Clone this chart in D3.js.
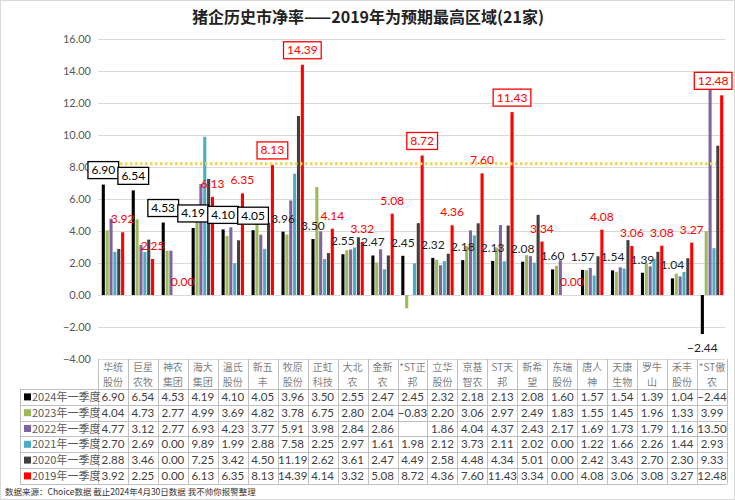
<!DOCTYPE html>
<html>
<head>
<meta charset="utf-8">
<script src="https://cdn.jsdelivr.net/npm/d3@7/dist/d3.min.js"></script>
<style>
  body { margin: 0; background: #fff; }
  svg { display: block; }
  .num { font-family: "Lato", "Liberation Sans", sans-serif; }
  .cjk { font-family: "Noto Sans CJK SC", sans-serif; }
</style>
</head>
<body>
<script>
// company list, one column per company
var companies = ["华统股份", "巨星农牧", "神农集团", "海大集团", "温氏股份", "新五丰", "牧原股份",
  "正虹科技", "大北农", "金新农", "*ST正邦", "立华股份", "京基智农", "ST天邦", "新希望",
  "东瑞股份", "唐人神", "天康生物", "罗牛山", "禾丰股份", "*ST傲农"];

// series names (legend / table rows)
var seriesNames = ["2024年一季度", "2023年一季度", "2022年一季度", "2021年一季度", "2020年一季度", "2019年一季度"];

// price-to-book per series
var pb2024 = [6.90, 6.54, 4.53, 4.19, 4.10, 4.05, 3.96, 3.50, 2.55, 2.47, 2.45, 2.32, 2.18, 2.13, 2.08, 1.60, 1.57, 1.54, 1.39, 1.04, -2.44];
var pb2023 = [4.04, 4.73, 2.77, 4.99, 3.69, 4.82, 3.78, 6.75, 2.80, 2.04, -0.83, 2.20, 3.06, 2.97, 2.49, 1.83, 1.55, 1.45, 1.96, 1.33, 3.99];
var pb2022 = [4.77, 3.12, 2.77, 6.93, 4.23, 3.77, 5.91, 3.98, 2.84, 2.86, null, 1.86, 4.04, 4.37, 2.43, 2.17, 1.69, 1.73, 1.79, 1.16, 13.50];
var pb2021 = [2.70, 2.69, 0.00, 9.89, 1.99, 2.88, 7.58, 2.25, 2.97, 1.61, 1.98, 2.12, 3.73, 2.11, 2.02, 0.00, 1.22, 1.66, 2.26, 1.44, 2.93];
var pb2020 = [2.88, 3.46, 0.00, 7.25, 3.42, 4.50, 11.19, 2.62, 3.61, 2.47, 4.49, 2.58, 4.48, 4.34, 5.01, 0.00, 2.42, 3.43, 2.70, 2.30, 9.33];
var pb2019 = [3.92, 2.25, 0.00, 6.13, 6.35, 8.13, 14.39, 4.14, 3.32, 5.08, 8.72, 4.36, 7.60, 11.43, 3.34, 0.00, 4.08, 3.06, 3.08, 3.27, 12.48];

var yTicks = [-4, -2, 0, 2, 4, 6, 8, 10, 12, 14, 16];
var refLevel = 8.2; // the yellow dotted "high zone" line

// labels drawn inside a frame
var boxed2024 = ["华统股份", "巨星农牧", "神农集团", "海大集团", "温氏股份", "新五丰"];
var boxed2019 = ["新五丰", "牧原股份", "*ST正邦", "ST天邦", "*ST傲农"];

window.onload = function(){

	var w = 735, h = 500;
	var colors = ["#000000", "#9bbb59", "#8064a2", "#4bacc6", "#404040", "#ff0000"];
	var series = [pb2024, pb2023, pb2022, pb2021, pb2020, pb2019];

	var svg = d3.select("body").append("svg")
		.attr("width", w)
		.attr("height", h);

	svg.append("rect")
		.attr("x", 0.5).attr("y", 0.5)
		.attr("width", w - 1).attr("height", h - 1)
		.style("fill", "#fff")
		.style("stroke", "#d9d9d9");

	// title
	svg.append("text")
		.attr("class", "cjk")
		.attr("x", 368)
		.attr("y", 23)
		.attr("text-anchor", "middle")
		.style("font-size", "16px")
		.style("font-weight", "bold")
		.style("fill", "#222")
		.text("猪企历史市净率——2019年为预期最高区域(21家)");

	var left = 98, right = 727;

	var y = d3.scaleLinear()
		.domain([-4, 16])
		.range([359, 39]);

	var x0 = d3.scaleBand()
		.domain(companies)
		.range([left, right])
		.paddingInner(0.2)
		.paddingOuter(0.1);

	var x1 = d3.scaleBand()
		.domain(d3.range(series.length))
		.range([0, x0.bandwidth()])
		.padding(0.2);

	// gridlines
	svg.selectAll(".grid")
		.data(yTicks)
		.enter()
		.append("line")
		.attr("x1", left).attr("x2", right - 2)
		.attr("y1", function(d){ return Math.round(y(d)) + 0.5; })
		.attr("y2", function(d){ return Math.round(y(d)) + 0.5; })
		.style("stroke", "#d9d9d9");

	// y axis labels
	var yAxis = d3.axisLeft(y)
		.tickValues(yTicks)
		.tickSize(0)
		.tickPadding(6)
		.tickFormat(d3.format(".2f"));

	var axis = svg.append("g")
		.attr("transform", "translate(" + (left - 1) + ",0)")
		.call(yAxis);
	axis.select(".domain").remove();
	axis.selectAll("text")
		.attr("class", "num")
		.style("font-size", "11px")
		.style("fill", "#595959");

	// bars
	var groups = svg.selectAll(".grp")
		.data(companies)
		.enter()
		.append("g")
		.attr("transform", function(d){ return "translate(" + x0(d) + ",0)"; });

	groups.selectAll("rect")
		.data(function(d, i){
			return series.map(function(s, k){ return {k: k, v: s[i]}; })
				.filter(function(e){ return e.v !== null; });
		})
		.enter()
		.append("rect")
		.attr("x", function(d){ return x1(d.k); })
		.attr("width", x1.bandwidth())
		.attr("y", function(d){ return y(Math.max(0, d.v)); })
		.attr("height", function(d){ return Math.abs(y(d.v) - y(0)); })
		.style("fill", function(d){ return colors[d.k]; });

	// yellow dotted reference line
	svg.append("line")
		.attr("x1", 90).attr("x2", 716)
		.attr("y1", y(refLevel)).attr("y2", y(refLevel))
		.style("stroke", "#f2d34a")
		.style("stroke-width", 3)
		.style("stroke-dasharray", "2.5,2.5");

	// value labels for 2024 (k=0) and 2019 (k=5)
	function addLabels(values, k, boxedList, color){
		values.forEach(function(v, i){
			var name = companies[i];
			var cx = x0(name) + x1(k) + x1.bandwidth() / 2;
			var txt = d3.format(".2f")(v);
			if (boxedList.indexOf(name) >= 0) {
				var g = svg.append("g");
				var bottom = y(v) - 6;
				var r = g.append("rect");
				var t = g.append("text")
					.attr("class", "num")
					.attr("y", bottom - 4.5)
					.attr("text-anchor", "middle")
					.style("font-size", "12px")
					.style("fill", color)
					.text(txt);
				var tw = t.node().getComputedTextLength();
				var bw = tw + 7;
				var bx = Math.min(cx - bw / 2, w - 3 - bw);
				t.attr("x", bx + bw / 2);
				r.attr("x", bx)
					.attr("y", bottom - 17)
					.attr("width", bw)
					.attr("height", 17)
					.style("fill", "#fff")
					.style("stroke", color)
					.style("stroke-width", 1.3);
			} else {
				var ly = v < 0 ? y(v) + 18 : y(Math.max(0, v)) - 9;
				svg.append("text")
					.attr("class", "num")
					.attr("x", cx)
					.attr("y", ly)
					.attr("text-anchor", "middle")
					.style("font-size", "12px")
					.style("fill", color === "#000000" ? "#222" : color)
					.text(txt);
			}
		});
	}
	addLabels(pb2024, 0, boxed2024, "#000000");
	addLabels(pb2019, 5, boxed2019, "#ff0000");

	// data table
	var headTop = 359, rowTop = 389, rowH = 15.8, legLeft = 20;
	var colW = (right - left) / companies.length;
	var lineCol = "#bfbfbf";

	function header(name){
		if (name.indexOf("ST") >= 0) return [name.slice(0, -1), name.slice(-1)];
		return [name.slice(0, 2), name.slice(2)];
	}

	// header cells, two lines each
	companies.forEach(function(name, i){
		var cx = left + colW * (i + 0.5);
		header(name).forEach(function(s, j){
			svg.append("text")
				.attr("class", "cjk")
				.attr("x", cx)
				.attr("y", headTop + 12 + j * 14.6)
				.attr("text-anchor", "middle")
				.style("font-size", "10px")
				.style("fill", "#7f7f7f")
				.text(s);
		});
	});

	// vertical lines
	d3.range(companies.length + 1).forEach(function(i){
		svg.append("line")
			.attr("x1", Math.round(left + colW * i) + 0.5)
			.attr("x2", Math.round(left + colW * i) + 0.5)
			.attr("y1", headTop).attr("y2", rowTop + rowH * 6)
			.style("stroke", lineCol);
	});
	svg.append("line")
		.attr("x1", legLeft + 0.5).attr("x2", legLeft + 0.5)
		.attr("y1", rowTop).attr("y2", rowTop + rowH * 6)
		.style("stroke", lineCol);

	// horizontal lines
	d3.range(7).forEach(function(r){
		svg.append("line")
			.attr("x1", legLeft).attr("x2", right)
			.attr("y1", Math.round(rowTop + rowH * r) + 0.5)
			.attr("y2", Math.round(rowTop + rowH * r) + 0.5)
			.style("stroke", lineCol);
	});

	// rows
	series.forEach(function(s, r){
		var cy = rowTop + rowH * r + rowH / 2;
		svg.append("rect")
			.attr("x", legLeft + 4).attr("y", cy - 3.5)
			.attr("width", 7).attr("height", 7)
			.style("fill", colors[r]);
		svg.append("text")
			.attr("class", "cjk")
			.attr("x", legLeft + 12)
			.attr("y", cy + 4)
			.style("font-size", "11px")
			.style("fill", "#595959")
			.text(seriesNames[r]);
		s.forEach(function(v, i){
			if (v === null) return;
			svg.append("text")
				.attr("class", "num")
				.attr("x", left + colW * (i + 0.5))
				.attr("y", cy + 4)
				.attr("text-anchor", "middle")
				.style("font-size", "11.5px")
				.style("fill", "#404040")
				.text(d3.format(".2f")(v));
		});
	});

	// source note
	svg.append("text")
		.attr("class", "cjk")
		.attr("x", 5)
		.attr("y", 495)
		.style("font-size", "8.5px")
		.style("fill", "#333")
		.text("数据来源：Choice数据    截止2024年4月30日数据  我不帅你报警整理");
};
</script>
</body>
</html>
